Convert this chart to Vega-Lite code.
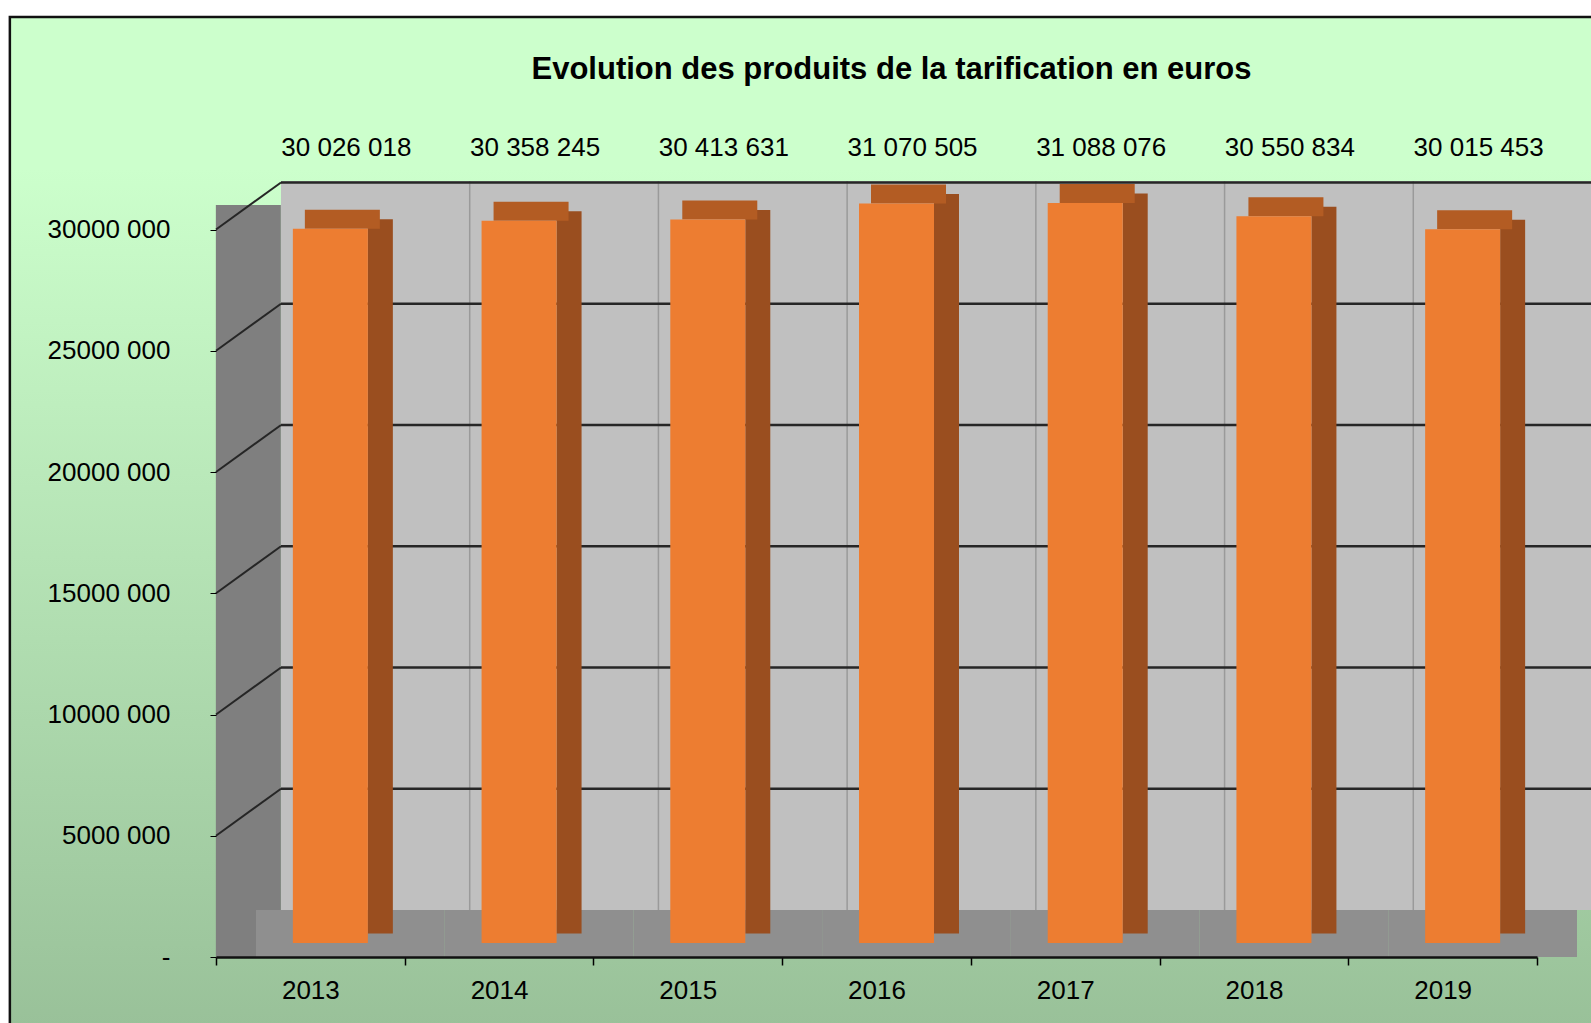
{
  "$schema": "https://vega.github.io/schema/vega-lite/v6.json",
  "autosize": {"type": "none"},
  "width": 1321,
  "height": 776,
  "padding": {"left": 216, "top": 181, "right": 54, "bottom": 66},
  "background": "#FFFFFF",
  "config": {
    "font": "Liberation Sans",
    "view": {"stroke": null},
    "locale": {"number": {"decimal": ",", "thousands": " ", "grouping": [3], "currency": ["", " €"]}}
  },
  "title": {
    "text": "Evolution des produits de la tarification en euros",
    "anchor": "middle",
    "frame": "group",
    "dx": 15,
    "offset": -70,
    "font": "Liberation Sans",
    "fontSize": 31,
    "fontWeight": "bold",
    "color": "#000000"
  },
  "datasets": {
    "years": [
      {"year": "2013", "value": 30026018},
      {"year": "2014", "value": 30358245},
      {"year": "2015", "value": 30413631},
      {"year": "2016", "value": 31070505},
      {"year": "2017", "value": 31088076},
      {"year": "2018", "value": 30550834},
      {"year": "2019", "value": 30015453}
    ],
    "grid": [{"v": 5000000}, {"v": 10000000}, {"v": 15000000}, {"v": 20000000}, {"v": 25000000}, {"v": 30000000}]
  },
  "data": {"name": "years"},
  "encoding": {
    "x": {
      "field": "year",
      "type": "nominal",
      "scale": {"paddingInner": 0, "paddingOuter": 0},
      "axis": {
        "title": null,
        "labelAngle": 0,
        "labelFontSize": 26,
        "labelColor": "#000000",
        "labelPadding": 12,
        "tickSize": 8,
        "tickWidth": 1.5,
        "tickColor": "#000000",
        "tickBand": "extent",
        "domainColor": "#111111",
        "domainWidth": 2.5,
        "zindex": 1
      }
    },
    "y": {
      "field": "value",
      "type": "quantitative",
      "scale": {"domain": [0, 32000000], "nice": false},
      "axis": {
        "title": null,
        "grid": false,
        "domain": false,
        "values": [0, 5000000, 10000000, 15000000, 20000000, 25000000, 30000000],
        "labelExpr": "datum.value == 0 ? '-' : format(datum.value / 1000, 'd') + ' 000'",
        "labelFontSize": 26,
        "labelColor": "#000000",
        "labelPadding": 40,
        "tickSize": 6,
        "tickColor": "#000000",
        "zindex": 1,
        "encode": {"labels": {"update": {"dx": {"signal": "datum.value == 0 ? -11 : 0"}}}}
      }
    }
  },
  "layer": [
    {
      "transform": [{"filter": "datum.year == '2013'"}],
      "mark": {
        "type": "bar",
        "width": 1600,
        "xOffset": 499.5,
        "yOffset": -164,
        "y2Offset": 70,
        "stroke": "#111111",
        "strokeWidth": 2.5,
        "strokeDash": [1600, 2610, 1010],
        "fill": {
          "gradient": "linear",
          "x1": 0, "y1": 0, "x2": 0, "y2": 1,
          "stops": [
            {"offset": 0, "color": "#CCFFCC"},
            {"offset": 0.15, "color": "#CCFFCC"},
            {"offset": 1, "color": "#99C199"}
          ]
        }
      },
      "encoding": {
        "y": {"datum": 32000000, "type": "quantitative"},
        "y2": {"datum": 0}
      }
    },
    {
      "transform": [{"filter": "datum.year == '2013'"}],
      "mark": {"type": "bar", "color": "#7F7F7F", "width": 65, "xOffset": -62, "yOffset": 24},
      "encoding": {
        "y": {"datum": 32000000, "type": "quantitative"},
        "y2": {"datum": 0}
      }
    },
    {
      "mark": {"type": "bar", "color": "#C0C0C0", "width": {"band": 1}, "xOffset": 65, "y2Offset": -47},
      "encoding": {
        "y": {"datum": 32000000, "type": "quantitative"},
        "y2": {"datum": 0}
      }
    },
    {
      "mark": {"type": "bar", "color": "#8F8F8F", "width": {"band": 1}, "xOffset": 40, "yOffset": -47},
      "encoding": {
        "y": {"datum": 0, "type": "quantitative"},
        "y2": {"datum": 0}
      }
    },
    {
      "mark": {"type": "rule", "color": "#9A9A9A", "strokeWidth": 1.5, "xOffset": 65, "y2Offset": -47},
      "encoding": {
        "x": {"field": "year", "type": "nominal", "bandPosition": 1},
        "y": {"datum": 32000000, "type": "quantitative"},
        "y2": {"datum": 0}
      }
    },
    {
      "data": {"name": "grid"},
      "mark": {"type": "rule", "color": "#262626", "strokeWidth": 2.5, "xOffset": 65, "x2Offset": 60, "yOffset": -47, "y2Offset": -47},
      "encoding": {
        "x": {"datum": "2013", "type": "nominal", "bandPosition": 0},
        "x2": {"datum": "2019", "bandPosition": 1},
        "y": {"field": "v", "type": "quantitative"},
        "y2": {"field": "v"}
      }
    },
    {
      "data": {"name": "grid"},
      "mark": {"type": "rule", "color": "#262626", "strokeWidth": 2, "x2Offset": 65, "y2Offset": -47},
      "encoding": {
        "x": {"datum": "2013", "type": "nominal", "bandPosition": 0},
        "x2": {"datum": "2013", "bandPosition": 0},
        "y": {"field": "v", "type": "quantitative"},
        "y2": {"field": "v"}
      }
    },
    {
      "mark": {"type": "bar", "color": "#9A4E1F", "width": 25, "xOffset": 70, "yOffset": -9.5, "y2Offset": -23.5},
      "encoding": {"y2": {"datum": 0}}
    },
    {
      "mark": {"type": "bar", "color": "#B35C23", "width": 75, "xOffset": 32, "yOffset": -19, "y2Offset": 0},
      "encoding": {"y2": {"field": "value"}}
    },
    {
      "mark": {"type": "bar", "color": "#ED7D31", "width": 75, "xOffset": 20, "y2Offset": -14},
      "encoding": {"y2": {"datum": 0}}
    },
    {
      "mark": {"type": "text", "dx": 36, "dy": -82, "fontSize": 26, "color": "#000000", "font": "Liberation Sans"},
      "encoding": {
        "y": {"datum": 30000000, "type": "quantitative"},
        "text": {"field": "value", "type": "quantitative", "format": ",d"}
      }
    }
  ]
}
